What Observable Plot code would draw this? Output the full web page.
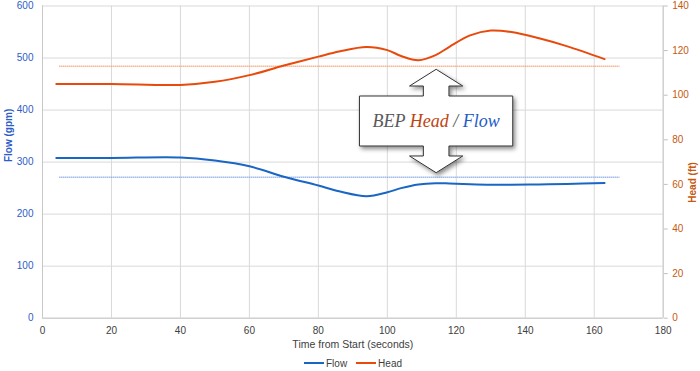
<!DOCTYPE html>
<html><head><meta charset="utf-8">
<script src="https://cdn.jsdelivr.net/npm/d3@7"></script>
<script src="https://cdn.jsdelivr.net/npm/@observablehq/plot@0.6"></script>
<style>
body{margin:0;background:#fff;font-family:"Liberation Sans",Arial,sans-serif;}
#chart svg{display:block}
.legend{height:16px;display:flex;justify-content:center;align-items:center;font-size:10px;color:#404040;padding-left:6px}
.legend .item{display:flex;align-items:center;margin:0 4.5px}
.legend .sw{display:inline-block;width:20px;height:2px;margin-right:2px}
</style></head><body><div id="chart"></div><script>
// Data
const time = [4, 20, 40, 50, 60, 70, 80, 86, 94, 100, 104, 109, 114, 118, 124, 130, 136, 144, 152, 163];
const flow = [308, 308, 309, 303, 292, 272, 255, 244, 234.5, 242, 250, 257, 259.5, 259, 257.5, 256.5, 256.5, 257, 258, 260];
const head = [105, 105, 104.6, 106, 109, 113.3, 117.3, 119.6, 121.6, 120.2, 117.6, 115.7, 118, 121.7, 126.8, 129, 128.3, 125.5, 122, 116.2];
const bepFlow = 271;
const bepHead = 113;
const bepStart = 5, bepEnd = 167.5;
const bepTime = 114.3;
const xTicks = [0, 20, 40, 60, 80, 100, 120, 140, 160, 180];
const flowTicks = [0, 100, 200, 300, 400, 500, 600];
const headTicks = [0, 20, 40, 60, 80, 100, 120, 140];
const seriesNames = ["Flow", "Head"];

const flowColor = "#1a66c5", headColor = "#e84a0c";
const ratio = 600 / 140;
const rows = time.map((t, i) => ({t, flow: flow[i], head: head[i]}));
const bep = [{start: bepStart, end: bepEnd, flow: bepFlow, head: bepHead}];

const H = 355;
const chart = Plot.plot({
  width: 700, height: H,
  marginLeft: 42, marginRight: 700 - 662.7, marginTop: 5.5, marginBottom: H - 317.7,
  x: {domain: [0, 180]},
  y: {domain: [0, 600]},
  style: {fontFamily: '"Liberation Sans", Arial, sans-serif', fontSize: "10px", background: "white"},
  marks: [
    Plot.gridY(flowTicks, {stroke: "#d9d9d9", strokeOpacity: 1}),
    Plot.gridX(xTicks, {stroke: "#d9d9d9", strokeOpacity: 1}),
    Plot.ruleX([0, 180], {stroke: "#c8c8c8"}),
    Plot.ruleY([0], {stroke: "#c8c8c8"}),
    Plot.axisX(xTicks, {tickSize: 0, tickPadding: 9, label: null, fill: "#404040"}),
    Plot.axisY(flowTicks, {anchor: "left", tickSize: 0, tickPadding: 9, label: null, fill: "#2e5cc8"}),
    Plot.axisY(headTicks.map(h => h * ratio), {anchor: "right", tickSize: 4, tickPadding: 5, stroke: "#bfbfbf",
      tickFormat: d => Math.round(d / ratio), label: null, fill: "#c55a11"}),
    Plot.ruleY(bep, {y: "flow", x1: "start", x2: "end", stroke: "#86a9e6", strokeWidth: 1.6, strokeDasharray: "1.2,0.8"}),
    Plot.ruleY(bep, {y: d => d.head * ratio, x1: "start", x2: "end", stroke: "#f4a278", strokeWidth: 1.6, strokeDasharray: "1.2,0.8"}),
    Plot.line(rows, {x: "t", y: "flow", stroke: flowColor, strokeWidth: 2, curve: "catmull-rom"}),
    Plot.line(rows, {x: "t", y: d => d.head * ratio, stroke: headColor, strokeWidth: 2, curve: "catmull-rom"}),
    Plot.text(["Flow (gpm)"], {text: d => d, frameAnchor: "left", dx: -34, rotate: -90, fill: "#2e5cc8", fontWeight: "bold"}),
    Plot.text(["Head (ft)"], {text: d => d, frameAnchor: "right", dx: 30, rotate: -90, fill: "#c55a11", fontWeight: "bold"}),
    Plot.text(["Time from Start (seconds)"], {text: d => d, frameAnchor: "bottom", dy: 30, fill: "#404040", fontSize: 10.5})
  ]
});

// Annotation callout (double arrow) pointing to the BEP lines
const sx = chart.scale("x"), sy = chart.scale("y");
const cx = sx.apply(bepTime);
const tTop = sy.apply(bepHead * ratio) + 3.6;
const tBot = sy.apply(bepFlow) - 4;
const hw = 26.6, nw = 12.8, bl = 76.7, br = 76.6, ah = 16.7, nk = 10;
const bTop = tTop + ah + nk, bBot = tBot - ah - nk;
const pts = [
  [cx, tTop], [cx + hw, tTop + ah], [cx + nw, tTop + ah], [cx + nw, bTop], [cx + br, bTop], [cx + br, bBot],
  [cx + nw, bBot], [cx + nw, tBot - ah], [cx + hw, tBot - ah], [cx, tBot], [cx - hw, tBot - ah], [cx - nw, tBot - ah],
  [cx - nw, bBot], [cx - bl, bBot], [cx - bl, bTop], [cx - nw, bTop], [cx - nw, tTop + ah], [cx - hw, tTop + ah]
];
const svg = d3.select(chart);
const defs = svg.append("defs");
const f = defs.append("filter").attr("id", "shadow").attr("x", "-20%").attr("y", "-20%").attr("width", "140%").attr("height", "140%");
f.append("feDropShadow").attr("dx", 2).attr("dy", 2.5).attr("stdDeviation", 2).attr("flood-color", "#000").attr("flood-opacity", 0.45);
const g = svg.append("g");
g.append("path").attr("d", "M" + pts.map(p => p.join(",")).join("L") + "Z")
  .attr("fill", "white").attr("stroke", "#333").attr("stroke-width", 1).attr("stroke-linejoin", "miter")
  .attr("filter", "url(#shadow)");
const txt = g.append("text").attr("x", cx).attr("y", (bTop + bBot) / 2 + 6)
  .attr("text-anchor", "middle").attr("font-family", '"Liberation Serif", "Times New Roman", serif')
  .attr("font-style", "italic").attr("font-size", 18);
txt.append("tspan").attr("fill", "#595959").text("BEP ");
txt.append("tspan").attr("fill", "#c0440f").text("Head");
txt.append("tspan").attr("fill", "#595959").text(" / ");
txt.append("tspan").attr("fill", "#1f5cc8").text("Flow");

document.getElementById("chart").append(chart);

// Legend below the SVG
const legend = d3.select("body").append("div").attr("class", "legend");
const colors = [flowColor, headColor];
seriesNames.forEach((n, i) => {
  const it = legend.append("span").attr("class", "item");
  it.append("span").attr("class", "sw").style("background", colors[i]);
  it.append("span").text(n);
});
</script></body></html>
